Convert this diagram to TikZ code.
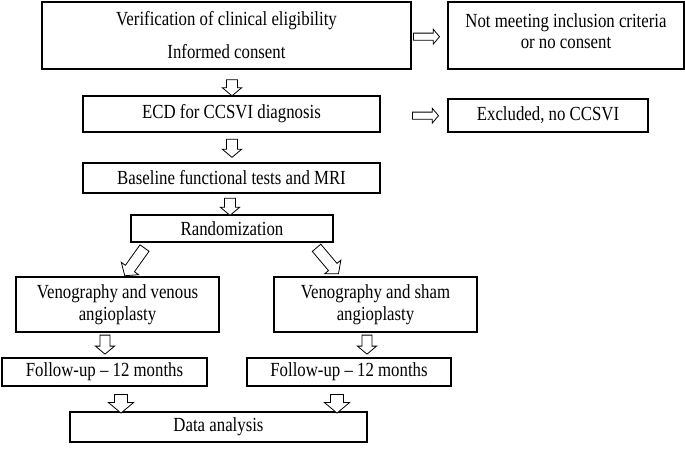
\documentclass[tikz,border=0pt]{standalone}
\usepackage{fontspec}
\setmainfont{Liberation Serif}[FakeStretch=0.84]
\usetikzlibrary{shapes.arrows}
\newcommand\liftup[1]{\raisebox{4pt}[\height][\depth]{#1}}
\begin{document}
\begin{tikzpicture}[x=1pt,y=-1pt,
  box/.style={draw, line width=1.2pt, inner sep=0pt, align=center,
    font=\fontsize{20}{21}\selectfont},
  barrow/.style={single arrow, draw, line width=0.8pt, shape border uses incircle,
    single arrow tip angle=100, fill=white, minimum width=0pt},
  shaft/.style={inner sep={#1*0.3536pt}},
  head/.style={single arrow head extend=#1pt}]
\useasboundingbox (0,0) rectangle (685,448);

\node[box, minimum width=369pt, minimum height=67pt] (elig) at (226.5,35.5)
  {Verification of clinical eligibility\\[12pt]Informed consent};
\node[box, minimum width=236pt, minimum height=67pt] (nomeet) at (566,35.5)
  {\liftup{Not meeting inclusion criteria}\\\liftup{or no consent}};
\node[box, minimum width=297pt, minimum height=36pt] (ecd) at (231.5,114)
  {ECD for CCSVI diagnosis};
\node[box, minimum width=200pt, minimum height=33pt] (excl) at (548,115.5)
  {Excluded, no CCSVI};
\node[box, minimum width=297pt, minimum height=30pt] (base) at (231.5,178)
  {Baseline functional tests and MRI};
\node[box, minimum width=202pt, minimum height=27pt] (rand) at (232,228.5)
  {Randomization};
\node[box, minimum width=203pt, minimum height=55pt] (venl) at (117.5,304.5)
  {Venography and venous\\[1pt]angioplasty};
\node[box, minimum width=203pt, minimum height=55pt] (venr) at (375.5,304.5)
  {Venography and sham\\[1pt]angioplasty};
\node[box, minimum width=205pt, minimum height=28pt] (ful) at (104.5,372)
  {Follow-up -- 12 months};
\node[box, minimum width=204pt, minimum height=28pt] (fur) at (349,372)
  {Follow-up -- 12 months};
\node[box, minimum width=297pt, minimum height=30pt] (data) at (218.5,427)
  {Data analysis};

\node[barrow, minimum height=26pt, shaft=6, head=4] (r1) at (425,36.7) {};
\node[barrow, minimum height=26pt, shaft=6, head=4] (r2) at (424,115.7) {};
\node[barrow, shape border rotate=270, minimum height=16pt, shaft=10, head=4] (d1) at (232,85.5) {};
\node[barrow, shape border rotate=270, minimum height=18pt, shaft=10, head=4] (d2) at (232,146) {};
\node[barrow, shape border rotate=270, minimum height=17pt, shaft=10, head=4] (d3) at (230,204.5) {};
\node[barrow, shape border rotate=234.5, minimum height=34pt, shaft=10, head=5] (dl) at (136,260) {};
\node[barrow, shape border rotate=310.2, minimum height=34pt, shaft=10, head=5] (dr) at (326,259) {};
\node[barrow, shape border rotate=270, minimum height=19pt, shaft=9, head=4.5] (d4) at (105,342.5) {};
\node[barrow, shape border rotate=270, minimum height=19pt, shaft=9, head=4.5] (d5) at (367,342.5) {};
\node[barrow, shape border rotate=270, minimum height=18pt, shaft=12, head=6] (d6) at (121,401) {};
\node[barrow, shape border rotate=270, minimum height=18pt, shaft=12, head=6] (d7) at (337,401) {};
\end{tikzpicture}
\end{document}
